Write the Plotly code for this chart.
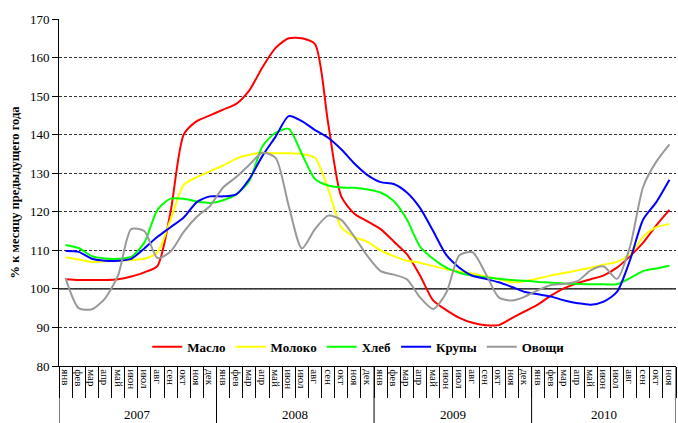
import plotly.graph_objects as go

months = ["янв", "фев", "мар", "апр", "май", "июн", "июл", "авг", "сен", "окт", "ноя", "дек"]
years = ["2007", "2008", "2009", "2010"]
month_labels = (months * 4)[:47]

maslo = [102.5, 102.3, 102.3, 102.3, 102.5, 103.2, 104.3, 106.0, 120.0, 140.0, 143.5, 145.0,
         146.5, 148.0, 151.5, 157.5, 162.5, 165.0, 165.0, 163.5, 143.0, 124.0, 119.5, 117.5,
         115.5, 112.3, 109.0, 103.5, 97.0, 94.5, 92.5, 91.2, 90.6, 90.6, 92.4, 94.2,
         96.0, 98.3, 100.2, 101.5, 102.5, 103.5, 105.5, 108.5, 112.0, 116.5, 120.5]
moloko = [108.2, 107.6, 107.0, 107.2, 107.3, 107.5, 107.8, 109.5, 118.0, 127.0, 129.0, 130.5,
          132.0, 133.8, 134.8, 135.3, 135.2, 135.2, 135.0, 134.0, 126.0, 116.0, 113.5, 112.2,
          110.0, 108.5, 107.3, 106.8, 105.9, 105.1, 104.5, 104.0, 103.2, 102.5, 101.7, 102.0,
          102.7, 103.5, 104.1, 104.8, 105.5, 106.3, 107.0, 109.0, 113.5, 116.0, 116.8]
hleb = [111.4, 110.6, 108.5, 107.9, 107.8, 108.3, 112.0, 120.5, 123.4, 123.4, 122.7, 122.3,
        123.0, 124.5, 128.0, 137.0, 140.5, 141.5, 135.0, 128.5, 126.8, 126.3, 126.2, 125.8,
        125.0, 122.8, 118.0, 111.0, 107.8, 105.5, 104.2, 103.4, 103.0, 102.6, 102.3, 102.1,
        101.8, 101.6, 101.4, 101.3, 101.2, 101.2, 101.2, 102.8, 104.6, 105.3, 106.0]
krupy = [109.8, 109.6, 107.8, 107.3, 107.3, 107.8, 110.5, 113.5, 116.0, 118.5, 122.5, 124.0,
         124.0, 124.5, 128.5, 134.5, 139.5, 144.8, 143.5, 141.2, 139.2, 136.2, 132.5, 129.5,
         127.7, 127.2, 125.0, 121.0, 115.0, 108.8, 105.5, 103.4, 102.6, 101.7, 100.5, 99.2,
         98.6, 98.0, 97.0, 96.3, 95.9, 96.7, 99.2, 107.5, 118.0, 122.5, 128.3]
ovoshchi = [102.8, 95.0, 94.7, 97.5, 103.5, 115.5, 115.0, 108.0, 109.7, 114.8, 118.7, 121.5,
            126.3, 129.0, 132.2, 135.3, 134.0, 121.5, 110.5, 115.5, 119.0, 117.9, 113.5, 108.5,
            104.6, 103.7, 102.5, 97.8, 94.8, 99.0, 108.7, 109.5, 104.0, 97.8, 97.0, 98.0,
            99.7, 101.0, 101.3, 102.0, 104.8, 105.8, 102.6, 111.0, 126.5, 133.0, 137.5]

series = [("Масло", maslo, "#FF0000"), ("Молоко", moloko, "#FFFF00"), ("Хлеб", hleb, "#00FF00"),
          ("Крупы", krupy, "#0000FF"), ("Овощи", ovoshchi, "#999999")]

x = list(range(len(month_labels)))
SERIF = "Liberation Serif"

fig = go.Figure()
for name, vals, col in series:
    fig.add_trace(go.Scatter(x=x, y=vals, name=name, mode="lines",
                             line=dict(color=col, width=2, shape="spline", smoothing=0.7)))

# reference line at 100
fig.add_shape(type="line", xref="paper", yref="y", x0=0, x1=1, y0=100, y1=100,
              line=dict(color="black", width=1.3), layer="below")

# year separators extending below the axis
bounds = [-0.5, 11.5, 23.5, 35.5, 46.5]
for b in bounds:
    fig.add_shape(type="line", xref="x", yref="paper", x0=b, x1=b, y0=0, y1=-0.2,
                  line=dict(color="black", width=1))

year_centers = [5.5, 17.5, 29.5, 41.0]
for yr, c in zip(years, year_centers):
    fig.add_annotation(x=c, y=-0.14, xref="x", yref="paper", text=yr, showarrow=False,
                       yanchor="middle", font=dict(family=SERIF, size=13, color="black"))

fig.update_layout(
    width=678, height=423,
    margin=dict(l=59, r=2, t=19, b=57),
    paper_bgcolor="white", plot_bgcolor="white",
    showlegend=True,
    legend=dict(orientation="h", x=0.485, xanchor="center", y=0.055, yanchor="middle",
                font=dict(family=SERIF, size=13, color="black", weight="bold"),
                bgcolor="rgba(0,0,0,0)", itemwidth=30, tracegroupgap=0),
    font=dict(family=SERIF, color="black"),
)

fig.update_yaxes(range=[80, 170], dtick=10, tick0=80,
                 showgrid=True, gridcolor="#333333", griddash="3px,2px", gridwidth=1,
                 showline=True, linecolor="black", linewidth=1,
                 ticks="outside", ticklen=6, tickcolor="black",
                 tickfont=dict(family=SERIF, size=13, color="black"),
                 title=dict(text="% к месяцу предыдущего года",
                            font=dict(family=SERIF, size=12.5, color="black", weight="bold"),
                            standoff=7),
                 zeroline=False)

fig.update_xaxes(range=[-0.5, 46.5], tickmode="array", tickvals=x, ticktext=month_labels,
                 tickangle=90, ticks="", showgrid=False, zeroline=False,
                 showline=True, linecolor="black", linewidth=1,
                 tickfont=dict(family=SERIF, size=11, color="black"),
                 minor=dict(tickmode="array", tickvals=[i - 0.5 for i in range(48)],
                            ticks="outside", ticklen=31, tickcolor="black", tickwidth=1,
                            showgrid=False))

fig.write_html("out.html", config={"displayModeBar": False},
               post_script="document.body.style.margin='0';")
